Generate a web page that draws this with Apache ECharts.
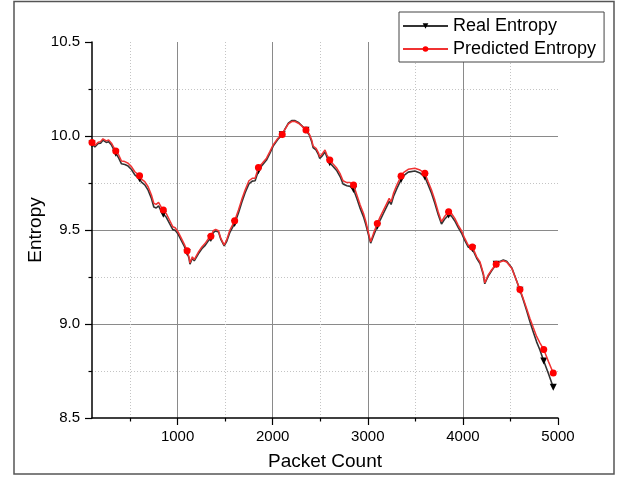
<!DOCTYPE html>
<html>
<head>
<meta charset="utf-8">
<script src="https://cdn.jsdelivr.net/npm/echarts@6/dist/echarts.min.js"></script>
<style>
html,body{margin:0;padding:0;background:#fff;}
#chart{width:619px;height:477px;}
</style>
</head>
<body>
<div id="chart"></div>
<script>
const packetCount = [100,130,165,190,215,250,275,305,350,380,410,445,480,515,550,600,620,655,690,725,750,775,800,825,850,880,915,950,975,1005,1040,1070,1100,1120,1130,1155,1175,1220,1255,1290,1325,1350,1375,1400,1430,1455,1490,1515,1550,1600,1640,1675,1710,1750,1785,1815,1850,1890,1935,1970,2005,2055,2100,2130,2165,2200,2235,2270,2305,2350,2385,2410,2425,2455,2480,2495,2525,2550,2570,2600,2635,2675,2710,2740,2780,2815,2850,2885,2920,2955,2980,3005,3030,3060,3100,3130,3165,3200,3225,3245,3270,3305,3350,3375,3425,3495,3550,3600,3635,3670,3705,3740,3775,3805,3850,3880,3915,3950,3985,4020,4055,4100,4145,4180,4215,4230,4265,4305,4350,4390,4425,4460,4515,4555,4600,4635,4670,4705,4740,4775,4810,4850,4900,4950];

const realEntropy = [9.958,9.942,9.960,9.962,9.978,9.966,9.970,9.952,9.908,9.884,9.852,9.848,9.840,9.822,9.793,9.772,9.755,9.740,9.712,9.668,9.622,9.617,9.628,9.603,9.584,9.569,9.535,9.502,9.498,9.478,9.444,9.414,9.380,9.350,9.318,9.350,9.336,9.375,9.400,9.418,9.444,9.455,9.486,9.495,9.490,9.450,9.415,9.438,9.488,9.535,9.590,9.648,9.698,9.745,9.760,9.762,9.815,9.845,9.872,9.908,9.946,9.983,10.006,10.038,10.068,10.082,10.082,10.072,10.056,10.030,10.005,9.970,9.938,9.926,9.902,9.880,9.897,9.915,9.888,9.858,9.838,9.815,9.783,9.745,9.735,9.732,9.715,9.668,9.615,9.570,9.528,9.478,9.430,9.470,9.520,9.553,9.589,9.626,9.652,9.636,9.678,9.720,9.768,9.788,9.808,9.814,9.803,9.782,9.740,9.696,9.642,9.582,9.532,9.556,9.580,9.574,9.548,9.514,9.484,9.445,9.410,9.400,9.350,9.322,9.262,9.214,9.254,9.286,9.318,9.332,9.340,9.334,9.298,9.243,9.180,9.128,9.072,9.012,8.958,8.905,8.862,8.803,8.735,8.664];

const predictedEntropy = [9.965,9.949,9.967,9.970,9.985,9.974,9.979,9.962,9.920,9.900,9.867,9.864,9.855,9.837,9.810,9.789,9.771,9.757,9.730,9.686,9.642,9.636,9.647,9.624,9.606,9.588,9.553,9.517,9.512,9.490,9.455,9.425,9.390,9.357,9.325,9.357,9.343,9.384,9.410,9.429,9.455,9.467,9.496,9.503,9.496,9.455,9.420,9.446,9.500,9.549,9.606,9.663,9.713,9.762,9.775,9.775,9.832,9.855,9.882,9.917,9.953,9.988,10.008,10.036,10.064,10.077,10.077,10.068,10.054,10.032,10.011,9.979,9.947,9.935,9.912,9.890,9.908,9.926,9.900,9.873,9.851,9.828,9.798,9.762,9.752,9.752,9.739,9.686,9.633,9.588,9.544,9.490,9.437,9.482,9.535,9.570,9.606,9.642,9.668,9.650,9.695,9.739,9.787,9.805,9.823,9.828,9.819,9.802,9.757,9.713,9.659,9.597,9.544,9.570,9.597,9.588,9.562,9.526,9.496,9.455,9.420,9.410,9.357,9.330,9.269,9.219,9.260,9.290,9.318,9.330,9.336,9.330,9.295,9.242,9.183,9.135,9.082,9.029,8.981,8.934,8.900,8.864,8.800,8.739];

// packet counts that carry a marker
const markerCounts = [100,350,600,850,1100,1350,1600,1850,2100,2350,2600,2850,3100,3350,3600,3850,4100,4350,4600,4850,4950];

const xMajorTicks = [1000,2000,3000,4000,5000];
const xMinorTicks = [500,1500,2500,3500,4500];

function buildData(values, sym) {
  return packetCount.map((x, i) => ({
    value: [x, values[i]],
    symbol: markerCounts.indexOf(x) >= 0 ? sym : 'none'
  }));
}

const chart = echarts.init(document.getElementById('chart'), null, {renderer: 'canvas'});
const font = 'Arial, "Liberation Sans", sans-serif';

chart.setOption({
  animation: false,
  backgroundColor: '#fff',
  textStyle: {fontFamily: font},
  graphic: [{
    type: 'rect',
    shape: {x: 14, y: 1.5, width: 600, height: 472.5},
    style: {fill: 'none', stroke: '#555', lineWidth: 1.5},
    silent: true, z: 0
  }],
  grid: {left: 92, top: 42, width: 466, height: 376, containLabel: false},
  legend: {
    left: 399, top: 12, orient: 'vertical',
    itemWidth: 45, itemHeight: 7, itemGap: 5,
    padding: [5, 8, 4, 3],
    borderColor: '#444', borderWidth: 1, backgroundColor: '#fff',
    textStyle: {fontSize: 18, color: '#000', fontFamily: font},
    data: ['Real Entropy', 'Predicted Entropy'],
    z: 10
  },
  xAxis: [{
    type: 'value', min: 100, max: 5000, position: 'bottom',
    name: 'Packet Count', nameLocation: 'middle', nameGap: 34,
    nameTextStyle: {fontSize: 19, color: '#000', fontFamily: font},
    axisLine: {show: true, onZero: false, lineStyle: {color: '#000', width: 1.5}},
    axisTick: {show: true, customValues: xMajorTicks, length: 7, lineStyle: {color: '#000', width: 1.2}},
    axisLabel: {show: true, customValues: xMajorTicks, fontSize: 15, color: '#000', margin: 11, fontFamily: font,
      formatter: v => String(v)},
    splitLine: {show: true, showMinLine: true, showMaxLine: false, lineStyle: {color: '#8a8a8a', width: 1}}
  }, {
    type: 'value', min: 100, max: 5000, position: 'bottom',
    axisLine: {show: false},
    axisTick: {show: true, customValues: xMinorTicks, length: 3.5, lineStyle: {color: '#000', width: 1.2}},
    axisLabel: {show: false},
    splitLine: {show: true, lineStyle: {color: '#c4c4c4', width: 1, type: [1, 2]}}
  }],
  yAxis: [{
    type: 'value', min: 8.5, max: 10.5, interval: 0.5,
    name: 'Entropy', nameLocation: 'middle', nameGap: 47, nameMoveOverlap: false,
    nameTextStyle: {fontSize: 19, color: '#000', fontFamily: font},
    axisLine: {show: true, onZero: false, lineStyle: {color: '#000', width: 1.5}},
    axisTick: {show: true, length: 7, lineStyle: {color: '#000', width: 1.2}},
    minorTick: {show: true, splitNumber: 2, length: 3.5, lineStyle: {color: '#000', width: 1.2}},
    axisLabel: {fontSize: 15, color: '#000', margin: 12, fontFamily: font,
      formatter: v => v.toFixed(1)},
    splitLine: {show: true, showMinLine: false, showMaxLine: false, lineStyle: {color: '#8a8a8a', width: 1}},
    minorSplitLine: {show: true, lineStyle: {color: '#c4c4c4', width: 1, type: [1, 2]}}
  }],
  series: [{
    name: 'Real Entropy', type: 'line', xAxisIndex: 0, yAxisIndex: 0,
    data: buildData(realEntropy, 'triangle'),
    symbol: 'triangle', symbolRotate: 180, symbolSize: 7, showAllSymbol: true,
    lineStyle: {color: '#333', width: 1.6},
    itemStyle: {color: '#000'},
    z: 3
  }, {
    name: 'Predicted Entropy', type: 'line', xAxisIndex: 0, yAxisIndex: 0,
    data: buildData(predictedEntropy, 'circle'),
    symbol: 'circle', symbolSize: 7, showAllSymbol: true,
    lineStyle: {color: '#f03232', width: 1.5},
    itemStyle: {color: '#ff0000'},
    z: 4
  }]
});
</script>
</body>
</html>
